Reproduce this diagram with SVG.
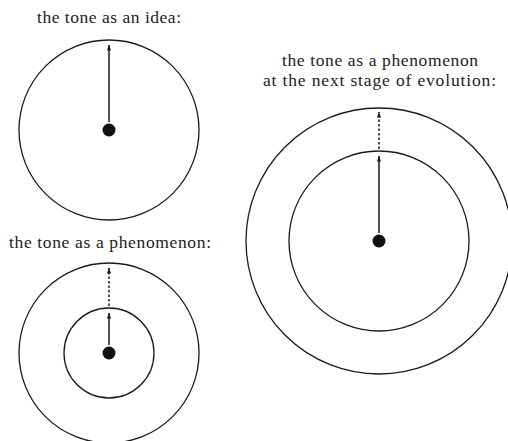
<svg xmlns="http://www.w3.org/2000/svg" width="508" height="441" viewBox="0 0 508 441">
<style>
.ring{fill:none;stroke:#1a1a1a;stroke-width:1.3}
.dot{fill:#111}
.arr{stroke:#1a1a1a;stroke-width:1.5;fill:none}
.dash{stroke-dasharray:2.5 2}
.lbl{font-family:"Liberation Serif","Times New Roman",serif;font-size:17.5px;fill:#222;text-anchor:middle}
</style>
<defs>
<marker id="ah" viewBox="0 0 6 4" refX="5.5" refY="2" markerWidth="6" markerHeight="4" markerUnits="userSpaceOnUse" orient="auto">
<path d="M0,0 L6,2 L0,4 Z" fill="#1a1a1a"/>
</marker>
</defs>
<rect width="508" height="441" fill="#fff"/>
<g id="idea">
<text class="lbl" x="109" y="23" textLength="144" lengthAdjust="spacing">the tone as an idea:</text>
<circle class="ring" cx="109" cy="130" r="90"/>
<circle class="dot" cx="109" cy="130" r="6.5"/>
</g>
<g id="phenomenon">
<text class="lbl" x="110" y="248" textLength="202" lengthAdjust="spacing">the tone as a phenomenon:</text>
<circle class="ring" cx="109" cy="353" r="90"/>
<circle class="ring" cx="109" cy="353" r="45"/>
<circle class="dot" cx="109" cy="353" r="6.5"/>
</g>
<g id="next-stage">
<text class="lbl" x="380" y="66" textLength="196" lengthAdjust="spacing">the tone as a phenomenon</text>
<text class="lbl" x="379.5" y="86" textLength="233" lengthAdjust="spacing">at the next stage of evolution:</text>
<circle class="ring" cx="379" cy="241" r="133"/>
<circle class="ring" cx="379" cy="241" r="90"/>
<circle class="dot" cx="379" cy="241" r="6.5"/>
</g>
<g id="connectors">
<line class="arr" x1="109" y1="122" x2="109" y2="45" marker-end="url(#ah)"/>
<line class="arr" x1="109" y1="345" x2="109" y2="313" marker-end="url(#ah)"/>
<line class="arr dash" x1="109" y1="306" x2="109" y2="268" marker-end="url(#ah)"/>
<line class="arr" x1="379" y1="233" x2="379" y2="156" marker-end="url(#ah)"/>
<line class="arr dash" x1="379" y1="149" x2="379" y2="112" marker-end="url(#ah)"/>
</g>
</svg>
